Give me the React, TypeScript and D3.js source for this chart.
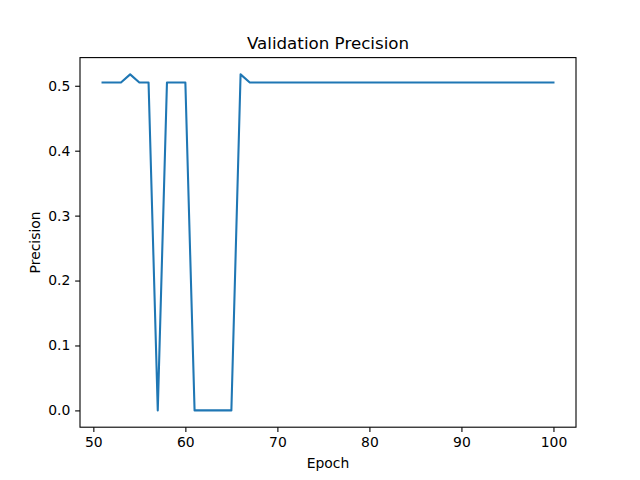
import React, { useEffect, useRef } from 'react';
import * as d3 from 'd3';

// Epochs shown on the chart
const epochs = [
  51, 52, 53, 54, 55, 56, 57, 58, 59, 60,
  61, 62, 63, 64, 65, 66, 67, 68, 69, 70,
  71, 72, 73, 74, 75, 76, 77, 78, 79, 80,
  81, 82, 83, 84, 85, 86, 87, 88, 89, 90,
  91, 92, 93, 94, 95, 96, 97, 98, 99, 100,
];

// Validation precision per epoch
const precision = [
  0.505, 0.505, 0.505, 0.5175, 0.505, 0.505, 0, 0.505, 0.505, 0.505,
  0, 0, 0, 0, 0, 0.5175, 0.505, 0.505, 0.505, 0.505,
  0.505, 0.505, 0.505, 0.505, 0.505, 0.505, 0.505, 0.505, 0.505, 0.505,
  0.505, 0.505, 0.505, 0.505, 0.505, 0.505, 0.505, 0.505, 0.505, 0.505,
  0.505, 0.505, 0.505, 0.505, 0.505, 0.505, 0.505, 0.505, 0.505, 0.505,
];

const xTicks = [50, 60, 70, 80, 90, 100];
const yTicks = [0, 0.1, 0.2, 0.3, 0.4, 0.5];

const App: React.FC = () => {
  const svgRef = useRef<SVGSVGElement>(null);

  useEffect(() => {
    if (!svgRef.current) return;
    const svg = d3.select(svgRef.current);
    svg.selectAll('*').remove();

    const font = 'DejaVu Sans, sans-serif';
    const left = 80, right = 576, top = 57.6, bottom = 427.2;

    // matplotlib-style 5% margins
    const [x0, x1] = d3.extent(epochs) as [number, number];
    const [y0, y1] = d3.extent(precision) as [number, number];
    const xPad = (x1 - x0) * 0.05;
    const yPad = (y1 - y0) * 0.05;

    const x = d3.scaleLinear().domain([x0 - xPad, x1 + xPad]).range([left, right]);
    const y = d3.scaleLinear().domain([y0 - yPad, y1 + yPad]).range([bottom, top]);

    svg.append('rect')
      .attr('width', 640)
      .attr('height', 480)
      .attr('fill', 'white');

    // Line
    const line = d3.line<number>()
      .x((_, i) => x(epochs[i]))
      .y(d => y(d));

    svg.append('path')
      .datum(precision)
      .attr('fill', 'none')
      .attr('stroke', '#1f77b4')
      .attr('stroke-width', 2.08)
      .attr('stroke-linejoin', 'round')
      .attr('stroke-linecap', 'square')
      .attr('d', line);

    // Axes
    const xAxis = svg.append('g')
      .attr('transform', `translate(0,${bottom})`)
      .call(d3.axisBottom(x).tickValues(xTicks).tickSize(4.86).tickPadding(4.86).tickFormat(d3.format('d')));

    const yAxis = svg.append('g')
      .attr('transform', `translate(${left},0)`)
      .call(d3.axisLeft(y).tickValues(yTicks).tickSize(4.86).tickPadding(4.86).tickFormat(d3.format('.1f')));

    [xAxis, yAxis].forEach(g => {
      g.select('.domain').remove();
      g.selectAll('line').attr('stroke', 'black').attr('stroke-width', 1.1);
      g.selectAll('text')
        .attr('font-family', font)
        .attr('font-size', 13.9)
        .attr('fill', 'black');
    });

    // Spines
    svg.append('rect')
      .attr('x', left)
      .attr('y', top)
      .attr('width', right - left)
      .attr('height', bottom - top)
      .attr('fill', 'none')
      .attr('stroke', 'black')
      .attr('stroke-width', 1.1);

    // Title and labels
    svg.append('text')
      .attr('x', (left + right) / 2)
      .attr('y', top - 8.3)
      .attr('text-anchor', 'middle')
      .attr('font-family', font)
      .attr('font-size', 16.7)
      .attr('fill', 'black')
      .text('Validation Precision');

    svg.append('text')
      .attr('x', (left + right) / 2)
      .attr('y', 468)
      .attr('text-anchor', 'middle')
      .attr('font-family', font)
      .attr('font-size', 13.9)
      .attr('fill', 'black')
      .text('Epoch');

    svg.append('text')
      .attr('transform', `translate(40,${(top + bottom) / 2}) rotate(-90)`)
      .attr('text-anchor', 'middle')
      .attr('font-family', font)
      .attr('font-size', 13.9)
      .attr('fill', 'black')
      .text('Precision');
  }, []);

  return (
    <svg
      ref={svgRef}
      width={640}
      height={480}
      style={{ position: 'absolute', left: 0, top: 0, display: 'block' }}
    />
  );
};

export default App;
